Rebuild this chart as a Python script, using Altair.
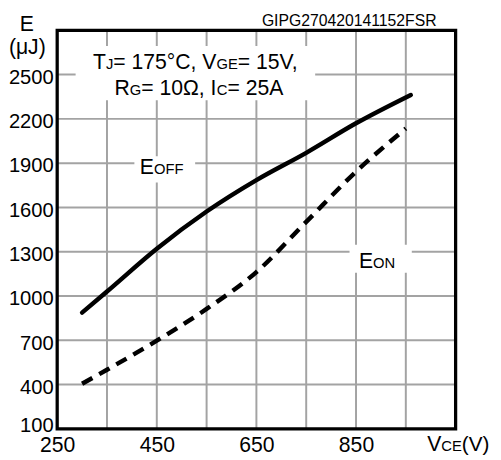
import altair as alt
import pandas as pd

# ---- data -------------------------------------------------------------
X_MIN, X_MAX = 250, 1050
Y_MIN, Y_MAX = 100, 2800
W, H = 405, 405

x_ticks = [250, 450, 650, 850]
y_ticks = [100, 400, 700, 1000, 1300, 1600, 1900, 2200, 2500]
x_grid = [350, 450, 550, 650, 750, 850, 950]
y_grid = [400, 700, 1000, 1300, 1600, 1900, 2200, 2500]

vce_off = [300, 350, 450, 550, 650, 750, 850, 960]
e_off = [887, 1030, 1320, 1572, 1785, 1970, 2170, 2362]
vce_on = [300, 350, 450, 550, 650, 750, 850, 950]
e_on = [405, 500, 697, 912, 1162, 1502, 1842, 2135]

BIG, SMALL = 21.5, 15
FONT = "Liberation Sans"

# text annotations: (x, y baseline, segments)
annotations = [
    (322, 2537, [("T", BIG), ("J", SMALL), ("= 175°C, V", BIG), ("GE", SMALL), ("= 15V,", BIG)]),
    (365, 2363, [("R", BIG), ("G", SMALL), ("= 10Ω, I", BIG), ("C", SMALL), ("= 25A", BIG)]),
    (416, 1825, [("E", BIG), ("OFF", SMALL)]),
    (856, 1191, [("E", BIG), ("ON", SMALL)]),
    (993, -53, [("V", BIG), ("CE", SMALL), ("(V)", 21)]),
    (175, 2793, [("E", BIG)]),
    (153, 2640, [("(μJ)", BIG)]),
    (661, 2830, [("GIPG270420141152FSR", 16)]),
]

# white boxes behind labels
boxes_x1 = [287, 405, 837]
boxes_x2 = [768, 527, 962]
boxes_y1 = [2327, 1769, 1158]
boxes_y2 = [2693, 1947, 1347]

# ---- helpers ------------------------------------------------------------
ARIAL = {" ": 278, "=": 584, "°": 400, "C": 722, ",": 278, "V": 667, "G": 778,
         "E": 667, "T": 611, "J": 500, "R": 722, "Ω": 768, "I": 278, "A": 667,
         "O": 778, "F": 611, "N": 722, "(": 333, ")": 333, "μ": 577, "P": 667,
         "S": 667}


def text_width(s, size):
    return sum(ARIAL.get(ch, 556) for ch in s) / 1000.0 * size


units_per_px = (X_MAX - X_MIN) / W
rows = []
for x0, y0, segs in annotations:
    off = 0.0
    for txt, size in segs:
        rows.append({"x": x0 + off * units_per_px, "y": y0, "t": txt, "s": size})
        off += text_width(txt, size)
text_df = pd.DataFrame(rows)

xscale = alt.Scale(domain=[X_MIN, X_MAX], nice=False, zero=False)
yscale = alt.Scale(domain=[Y_MIN, Y_MAX], nice=False, zero=False)

x_axis = alt.Axis(values=x_ticks, grid=False, domain=False, ticks=False, format="d",
                  labelFontSize=BIG, labelFont=FONT, labelColor="black",
                  labelPadding=6, labelFlush=False, labelOverlap=False, title=None)
y_axis = alt.Axis(values=y_ticks, grid=False, domain=False, ticks=False, format="d",
                  labelFontSize=20.5, labelFont=FONT, labelColor="black",
                  labelPadding=4, labelFlush=False, labelOverlap=False, title=None,
                  labelOffset=alt.ExprRef("datum.value == 100 ? -3 : 3"))


def X(field="x"):
    return alt.X(f"{field}:Q", scale=xscale, axis=x_axis)


def Y(field="y"):
    return alt.Y(f"{field}:Q", scale=yscale, axis=y_axis)


GRID = "#a3a3a3"

vgrid = alt.Chart(pd.DataFrame({"x": x_grid})).mark_rule(
    color=GRID, strokeWidth=2).encode(x=X())
hgrid = alt.Chart(pd.DataFrame({"y": y_grid})).mark_rule(
    color=GRID, strokeWidth=2).encode(y=Y())

boxes = alt.Chart(pd.DataFrame({"x": boxes_x1, "x2": boxes_x2,
                                "y": boxes_y1, "y2": boxes_y2})).mark_rect(
    color="white").encode(x=X(), x2="x2:Q", y=Y(), y2="y2:Q")

off_line = alt.Chart(pd.DataFrame({"x": vce_off, "y": e_off})).mark_line(
    color="black", strokeWidth=4.5, interpolate="monotone", strokeCap="round"
).encode(x=X(), y=Y())
on_line = alt.Chart(pd.DataFrame({"x": vce_on, "y": e_on})).mark_line(
    color="black", strokeWidth=4.5, interpolate="monotone", strokeDash=[12, 8]
).encode(x=X(), y=Y())

texts = alt.Chart(text_df).mark_text(
    align="left", baseline="alphabetic", font=FONT, color="black"
).encode(x=X(), y=Y(), text="t:N", size=alt.Size("s:Q", scale=None, legend=None))

frame = alt.Chart(pd.DataFrame({"x": [X_MIN], "x2": [X_MAX], "y": [Y_MIN], "y2": [Y_MAX]})).mark_rect(
    fill="transparent", stroke="black", strokeWidth=3.3
).encode(x=X(), x2="x2:Q", y=Y(), y2="y2:Q")

chart = alt.layer(vgrid, hgrid, boxes, off_line, on_line, texts, frame).properties(
    width=W, height=H,
    autosize=alt.AutoSizeParams(type="none"),
    padding={"left": 50, "top": 19, "right": 38, "bottom": 25},
    background="white",
).configure_view(strokeWidth=0)

chart.save("out.html", embed_options={"renderer": "svg", "actions": False})
